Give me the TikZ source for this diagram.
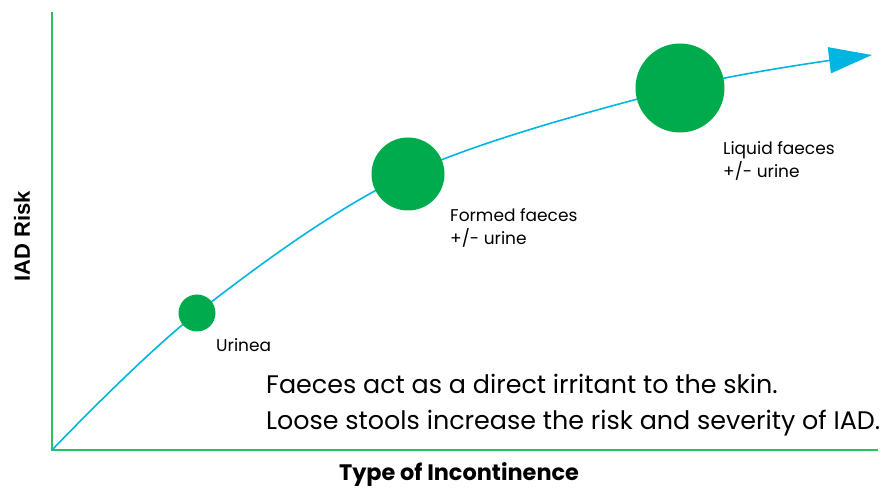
\documentclass[tikz,border=0pt]{standalone}
\usepackage{fontspec}
\setmainfont{Poppins}
\newfontfamily\arialfont{Liberation Sans}
\usetikzlibrary{arrows.meta}

\definecolor{dotgreen}{HTML}{00AB4E}
\definecolor{axisgreen}{HTML}{2BBE63}
\definecolor{curvecyan}{HTML}{00B5E2}

\tikzset{
  dot/.style={circle, fill=dotgreen, inner sep=0pt},
  axisline/.style={axisgreen, line width=2.2pt},
  riskcurve/.style={curvecyan, line width=1.6pt, -{Triangle[length=43pt,width=26pt]}},
  label/.style={font=\fontsize{17}{23}\selectfont, align=left, anchor=west, inner sep=0pt}
}

\begin{document}
\begin{tikzpicture}[x=1pt, y=-1pt]
  \useasboundingbox (0,0) rectangle (895,489);

  % axes
  \coordinate (origin) at (52,450);
  \coordinate (ytop) at (52,12);
  \coordinate (xend) at (878,450);
  \draw[axisline] (ytop) -- (origin) -- (xend);

  % risk points
  \coordinate (tip) at (872,55);
  \coordinate (urineapt) at (197,313);
  \coordinate (formedpt) at (408,174);
  \coordinate (liquidpt) at (680,88);

  \draw[riskcurve] plot[smooth, tension=0.55] coordinates
    {(origin) (urineapt) (formedpt) (liquidpt) (tip)};

  \node[dot, minimum size=37pt] (urinea) at (urineapt) {};
  \node[dot, minimum size=73pt] (formed) at (formedpt) {};
  \node[dot, minimum size=89pt] (liquid) at (liquidpt) {};

  \node[label] (urinealabel) at (216,345) {Urinea};
  \node[label] (formedlabel) at (450,228) {Formed faeces\\+/- urine};
  \node[label] (liquidlabel) at (723,161) {Liquid faeces\\+/- urine};

  \node[label, font=\fontsize{25.4}{36}\selectfont] (note) at (266,405)
    {Faeces act as a direct irritant to the skin.\\Loose stools increase the risk and severity of IAD.};

  % axis titles
  \node[font=\arialfont\bfseries\fontsize{22}{24}\selectfont, rotate=90, inner sep=0pt] (ytitle) at (22,236) {IAD Risk};
  \node[font=\bfseries\fontsize{22.4}{24}\selectfont, inner sep=0pt] (xtitle) at (459,475) {Type of Incontinence};
\end{tikzpicture}
\end{document}
